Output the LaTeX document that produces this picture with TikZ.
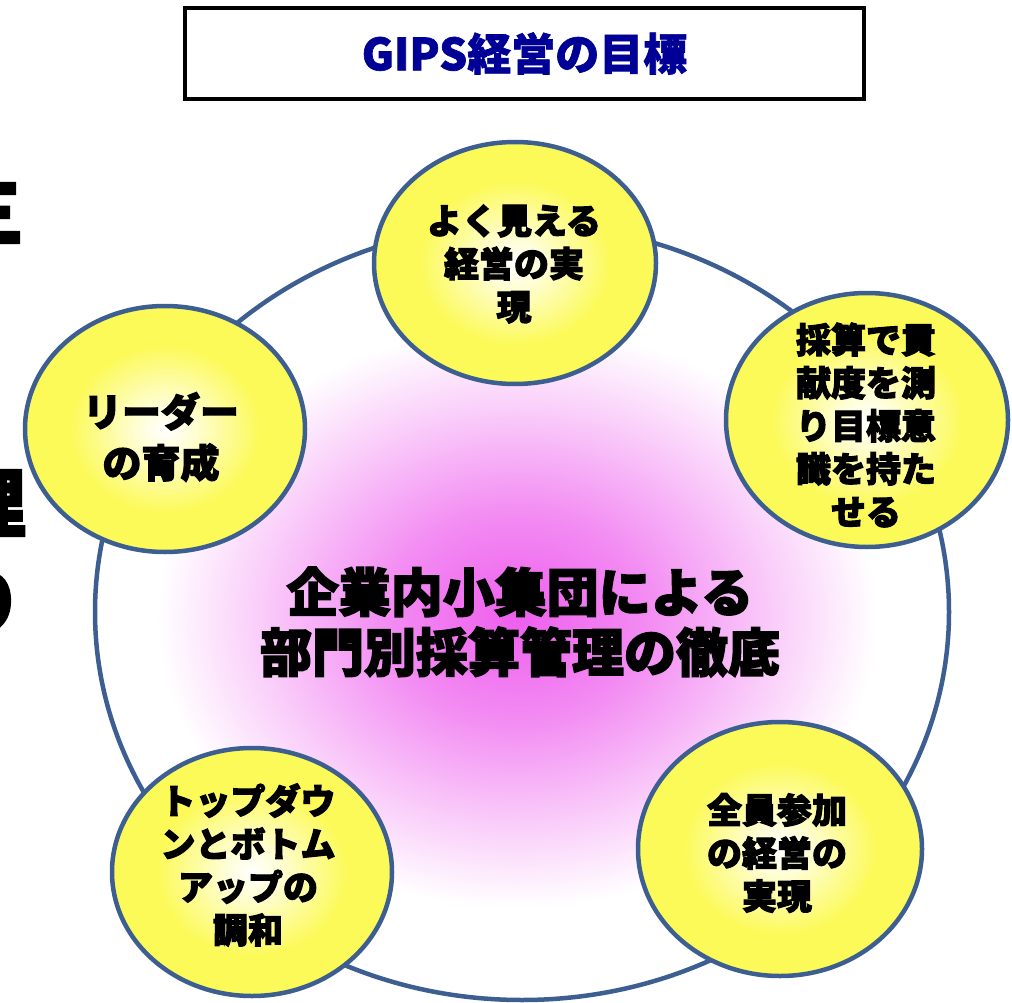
\documentclass[tikz,border=0pt]{standalone}
\usepackage{fontspec}
\newfontfamily\jp{Noto Sans CJK JP}[BoldFeatures={FakeBold=3}]
\newfontfamily\jpt{Noto Sans CJK JP}[BoldFeatures={FakeBold=1.5}]
\definecolor{ringblue}{RGB}{60,94,144}
\definecolor{yelc}{RGB}{252,250,88}
\definecolor{glowc}{RGB}{238,95,238}
\definecolor{titleblue}{RGB}{0,0,150}
\pgfdeclareradialshading{yelball}{\pgfpointorigin}{color(0bp)=(white); color(5bp)=(white!75!yelc); color(17bp)=(yelc); color(25bp)=(yelc); color(50bp)=(yelc)}
\pgfdeclareradialshading{pinkglow}{\pgfpointorigin}{color(0bp)=(glowc); color(9bp)=(glowc!72!white); color(17bp)=(glowc!35!white); color(25bp)=(white); color(50bp)=(white)}
\begin{document}
\begin{tikzpicture}[x=1pt,y=-1pt,
  ball/.style={draw=ringblue, line width=4.5pt, shade, shading=yelball},
  ring/.style={draw=ringblue, line width=4.5pt},
  balltext/.style={font=\jp\bfseries\fontsize{35}{43}\selectfont, align=center, inner sep=0pt, text=black},
  bigtext/.style={font=\jp\bfseries\fontsize{52}{60}\selectfont, align=center, inner sep=0pt, text=black},
  edgeglyph/.style={anchor=east, inner sep=0pt, font=\jp\bfseries\fontsize{75}{75}\selectfont, text=black},
  titlebox/.style={draw=black, line width=4pt, fill=white, minimum width=679pt, minimum height=91pt, inner sep=0pt,
    font=\jpt\bfseries\fontsize{44}{44}\selectfont, text=titleblue}]
\useasboundingbox (0,0) rectangle (1012,1003);
\clip (0,0) rectangle (1012,1003);
\fill[white] (0,0) rectangle (1012,1003);
% title
\node[titlebox] (title) at (524.5,53.5) {GIPS経営の目標};
% big ring with glow
\begin{scope}
  \clip (522,612) ellipse [x radius=427, y radius=388];
  \fill[white] (522,612) ellipse [x radius=427, y radius=388];
  \path[shade, shading=pinkglow] (517,617) ellipse [x radius=360, y radius=290];
\end{scope}
\draw[ring] (522,612) ellipse [x radius=427, y radius=388];
% balls
\path[ball] (515,263) ellipse [x radius=141, y radius=121];
\path[ball] (867,420) ellipse [x radius=141, y radius=127];
\path[ball] (165,429) ellipse [x radius=140, y radius=123];
\path[ball] (252,872) ellipse [x radius=140, y radius=124];
\path[ball] (780,849) ellipse [x radius=142, y radius=127];
% texts
\node[balltext] (t1) at (514,264) {よく見える\\経営の実\\現};
\node[balltext] (t2) at (866,425) {採算で貢\\献度を測\\り目標意\\識を持た\\せる};
\node[balltext, font=\jp\bfseries\fontsize{39}{51}\selectfont] (t3) at (161,437) {リーダー\\の育成};
\node[balltext] (t4) at (248,865) {トップダウ\\ンとボトム\\アップの\\調和};
\node[balltext] (t5) at (777,853) {全員参加\\の経営の\\実現};
\node[bigtext] (center) at (520,622) {企業内小集団による\\部門別採算管理の徹底};
% cut-off glyphs at the left edge
\node[edgeglyph] (g1) at (24,213) {三};
\node[edgeglyph] (g2) at (26,503) {理};
\node[edgeglyph] (g3) at (23,603) {り};
\end{tikzpicture}
\end{document}
